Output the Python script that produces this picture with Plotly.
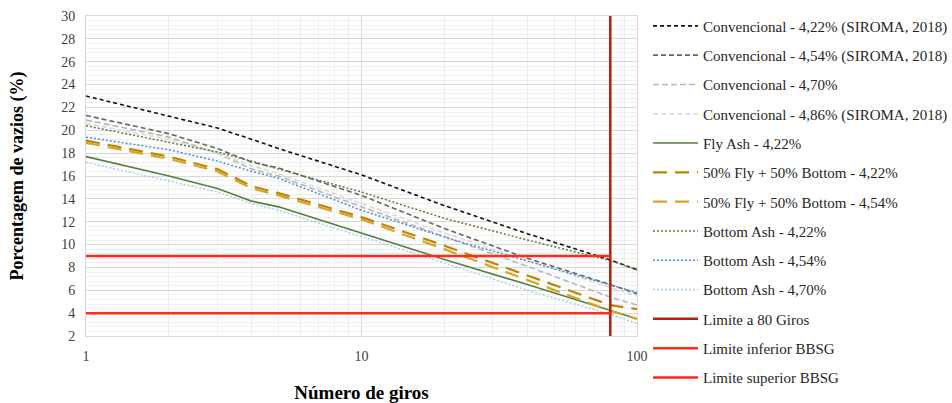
import plotly.graph_objects as go

giros = [1, 2, 3, 4, 5, 10, 20, 40, 80, 100]

conv_422 = [23.0, 21.2, 20.2, 19.2, 18.4, 16.1, 13.4, 10.95, 8.65, 7.8]
conv_454 = [21.3, 19.7, 18.4, 17.2, 16.7, 14.3, 11.4, 8.8, 6.5, 5.7]
conv_470 = [20.9, 19.4, 18.0, 16.6, 16.0, 13.3, 10.7, 8.1, 5.4, 4.7]
conv_486 = [20.6, 19.2, 18.0, 16.9, 16.2, 13.6, 11.0, 8.6, 6.3, 5.5]
fly_422 = [17.7, 16.0, 14.9, 13.8, 13.3, 11.0, 8.7, 6.5, 4.2, 3.5]
mix_422 = [19.1, 17.7, 16.6, 15.1, 14.5, 12.4, 9.9, 7.3, 4.7, 4.35]
mix_454 = [18.9, 17.5, 16.4, 14.9, 14.3, 12.2, 9.6, 6.9, 4.2, 3.5]
bottom_422 = [20.4, 18.95, 18.1, 17.3, 16.6, 14.6, 12.3, 10.4, 8.6, 7.8]
bottom_454 = [19.4, 18.3, 17.3, 16.4, 15.8, 13.0, 10.65, 8.55, 6.5, 5.8]
bottom_470 = [17.2, 15.6, 14.6, 13.6, 13.0, 10.7, 8.4, 6.0, 3.9, 3.1]

lim80_x = [80, 80]
lim80_y = [2, 30]
lim_x = [1, 80]
lim_inf = [4, 4]
lim_sup = [9, 9]

names = [
    "Convencional - 4,22% (SIROMA, 2018)",
    "Convencional - 4,54% (SIROMA, 2018)",
    "Convencional - 4,70%",
    "Convencional - 4,86% (SIROMA, 2018)",
    "Fly Ash - 4,22%",
    "50% Fly + 50% Bottom - 4,22%",
    "50% Fly + 50% Bottom - 4,54%",
    "Bottom Ash - 4,22%",
    "Bottom Ash - 4,54%",
    "Bottom Ash - 4,70%",
    "Limite a 80 Giros",
    "Limite inferior BBSG",
    "Limite superior BBSG",
]

series = [conv_422, conv_454, conv_470, conv_486, fly_422, mix_422, mix_454,
          bottom_422, bottom_454, bottom_470]
styles = [
    dict(color="#111111", dash="4px,3px", width=1.6),
    dict(color="#666666", dash="5px,3px", width=1.6),
    dict(color="#b8b8b8", dash="6px,3px", width=1.6),
    dict(color="#dadada", dash="5px,3px", width=1.6),
    dict(color="#55803a", dash="solid", width=1.6),
    dict(color="#b8860b", dash="14px,8px", width=2.2),
    dict(color="#d9a520", dash="14px,8px", width=2.2),
    dict(color="#5c7a3a", dash="2px,2px", width=1.5),
    dict(color="#4a90d9", dash="2px,2px", width=1.5),
    dict(color="#a8cdee", dash="2px,2px", width=1.5),
]

fig = go.Figure()
for i, (vals, st) in enumerate(zip(series, styles)):
    fig.add_trace(go.Scatter(x=giros, y=vals, mode="lines", name=names[i],
                             legendgroup=f"g{i}", line=st))

fig.add_trace(go.Scatter(x=lim80_x, y=lim80_y, mode="lines", name=names[10],
                         legendgroup="g10", line=dict(color="#b0200f", width=2.5)))
fig.add_trace(go.Scatter(x=lim_x, y=lim_inf, mode="lines", name=names[11],
                         legendgroup="g11", line=dict(color="#ff2a1a", width=2.5)))
fig.add_trace(go.Scatter(x=lim_x, y=lim_sup, mode="lines", name=names[12],
                         legendgroup="g12", line=dict(color="#ff2a1a", width=2.5)))

serif = "Liberation Serif, Times New Roman, serif"
fig.update_layout(
    width=952, height=403,
    margin=dict(l=86, r=315, t=16, b=67, autoexpand=False),
    paper_bgcolor="white", plot_bgcolor="white",
    font=dict(family=serif, size=14, color="#262626"),
    showlegend=True,
    legend=dict(x=1.02, xanchor="left", y=1.02, yanchor="top",
                font=dict(family=serif, size=15, color="#262626"),
                tracegroupgap=6.8, itemwidth=45, bgcolor="rgba(0,0,0,0)",
                maxheight=400),
    xaxis=dict(type="log", range=[0, 2], dtick=1,
               showgrid=True, gridcolor="#d9d9d9", gridwidth=1,
               minor=dict(dtick="D1", showgrid=True, gridcolor="#eeeeee", gridwidth=1),
               showline=True, linecolor="#d9d9d9", mirror=True,
               ticks="", ticklabelstandoff=7,
               tickfont=dict(family=serif, size=14, color="#404040"),
               automargin=False,
               title=dict(text="<b>Número de giros</b>", standoff=22,
                          font=dict(family=serif, size=19, color="#000000")),
               zeroline=False),
    yaxis=dict(range=[2, 30], dtick=2, tick0=0,
               showgrid=True, gridcolor="#d9d9d9", gridwidth=1,
               minor=dict(dtick=0.4, showgrid=True, gridcolor="#f0f0f0", gridwidth=1),
               showline=True, linecolor="#d9d9d9", mirror=True,
               ticks="", ticklabelstandoff=7,
               tickfont=dict(family=serif, size=14, color="#404040"),
               automargin=False,
               title=dict(text="<b>Porcentagem de vazios (%)</b>", standoff=32,
                          font=dict(family=serif, size=18, color="#000000")),
               zeroline=False),
)

fig.write_html("out.html", config={"displayModeBar": False},
               post_script="document.body.style.margin='0';")
